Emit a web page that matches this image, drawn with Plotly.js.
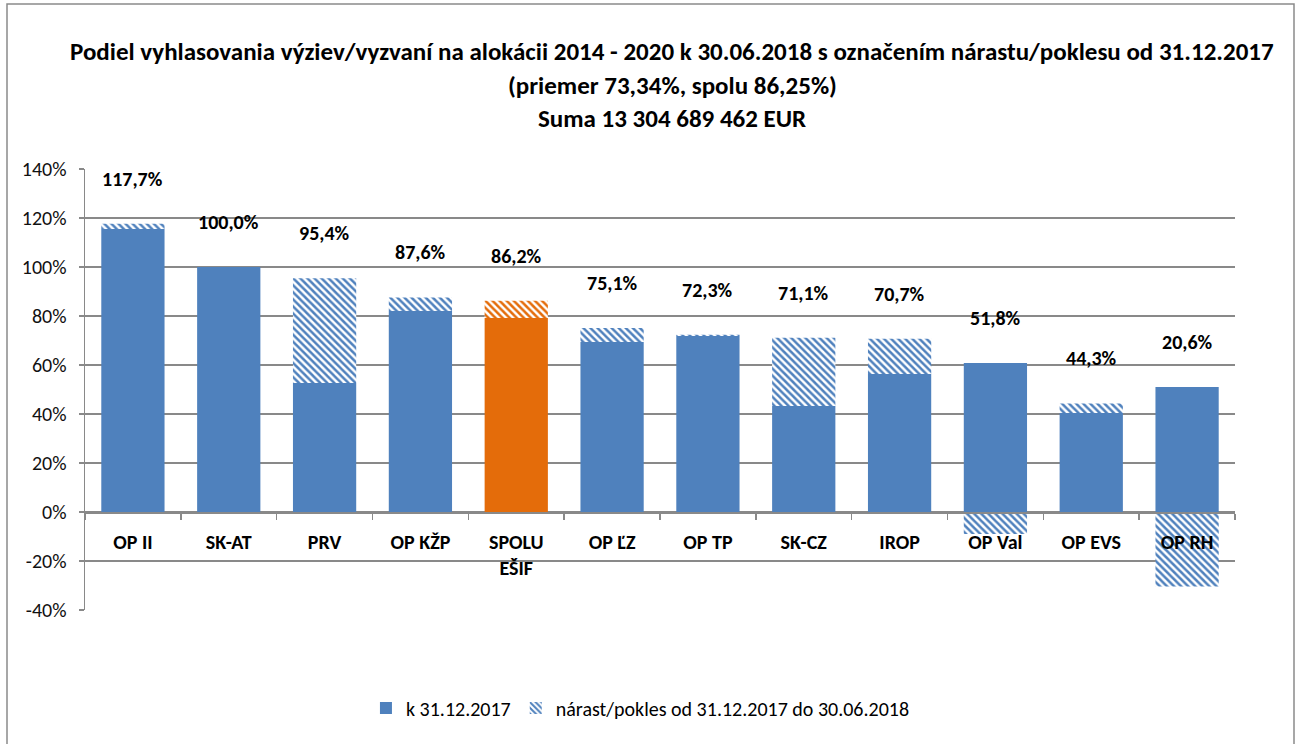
<!DOCTYPE html>
<html>
<head>
<meta charset="utf-8">
<script src="https://cdn.plot.ly/plotly-3.0.1.min.js"></script>
<style>html,body{margin:0;padding:0;background:#fff;}#chart{width:1297px;height:744px;}</style>
</head>
<body>
<div id="chart"></div>
<script>
// ---- data ----
const categories = ['OP II','SK-AT','PRV','OP KŽP','SPOLU<br>EŠIF','OP ĽZ','OP TP','SK-CZ','IROP','OP Val','OP EVS','OP RH'];
const base2017 = [115.5,100.0,52.7,82.0,79.2,69.4,71.8,43.3,56.3,60.8,40.4,51.0];
const change = [2.2,0.0,42.7,5.6,7.0,5.7,0.5,27.8,14.4,-9.0,3.9,-30.4];
const totalLabels = ['117,7%','100,0%','95,4%','87,6%','86,2%','75,1%','72,3%','71,1%','70,7%','51,8%','44,3%','20,6%'];
const yTickVals = [-40,-20,0,20,40,60,80,100,120,140];
const yTickText = ['-40%','-20%','0%','20%','40%','60%','80%','100%','120%','140%'];
const seriesNames = ['k 31.12.2017','nárast/pokles od 31.12.2017 do 30.06.2018'];
const titleLines = [
  'Podiel vyhlasovania výziev/vyzvaní na alokácii 2014 - 2020 k 30.06.2018 s označením nárastu/poklesu od 31.12.2017',
  '(priemer 73,34%, spolu 86,25%)',
  'Suma 13 304 689 462 EUR'
];

// ---- style ----
const BLUE = '#4F81BD', ORANGE = '#E46C0A', GRID = '#898989';
const FONT = "Carlito, 'Open Sans', sans-serif";
const highlight = 'SPOLU<br>EŠIF';
const W = 1297, H = 744, M = {l:85, r:62, t:169, b:134};
const pw = W - M.l - M.r, ph = H - M.t - M.b;
const px2x = p => (p - M.l) / pw;
const px2y = p => (H - M.b - p) / ph;

const fill = categories.map(c => c === highlight ? ORANGE : BLUE);

const traces = [
  {
    type:'bar', name:seriesNames[0], x:categories, y:base2017,
    marker:{color:fill, line:{width:0}},
    hoverinfo:'skip'
  },
  {
    type:'bar', name:seriesNames[1], x:categories, y:change,
    marker:{color:'#ffffff', line:{width:0},
      pattern:{shape:'\\', fgcolor:fill, bgcolor:'#ffffff', size:5, solidity:0.5, fillmode:'replace'}},
    hoverinfo:'skip'
  }
];

const annotations = [];
categories.forEach((c,i) => {
  const top = Math.max(base2017[i], base2017[i] + change[i]);
  annotations.push({
    x:c, y:top, xref:'x', yref:'y', text:'<b>'+totalLabels[i]+'</b>',
    showarrow:false, yanchor:'middle', yshift:45,
    font:{family:FONT, size:20, color:'#000'}
  });
});
const titleY = [52, 85, 118];
titleLines.forEach((t,i) => {
  annotations.push({
    x:px2x(672), y:px2y(titleY[i]), xref:'paper', yref:'paper',
    text:'<b>'+t+'</b>', showarrow:false, xanchor:'center', yanchor:'middle',
    font:{family:FONT, size:25, color:'#000'}
  });
});

const layout = {
  width:W, height:H, margin:M,
  paper_bgcolor:'#fff', plot_bgcolor:'#fff',
  barmode:'relative', bargap:0.34,
  showlegend:true,
  legend:{orientation:'h', x:0.483, xanchor:'center', y:px2y(708), yanchor:'middle',
    font:{family:FONT, size:20, color:'#000'}, itemwidth:30, traceorder:'normal'},
  xaxis:{
    type:'category', anchor:'free', position:px2y(512),
    showline:true, linecolor:GRID, linewidth:1.5,
    ticks:'outside', ticklen:6, tickcolor:GRID, tickwidth:1.5, tickson:'boundaries',
    showgrid:false, zeroline:false,
    tickfont:{family:FONT, size:20, color:'#000', weight:'bold'},
    ticklabelstandoff:11
  },
  yaxis:{
    range:[-40,140], domain:[0,1],
    tickvals:yTickVals, ticktext:yTickText,
    showgrid:true, gridcolor:GRID, gridwidth:1.5,
    showline:true, linecolor:GRID, linewidth:1.5,
    ticks:'outside', ticklen:5, tickcolor:GRID, tickwidth:1.5,
    zeroline:false,
    tickfont:{family:FONT, size:20, color:'#111'},
    ticklabelstandoff:8
  },
  annotations:annotations,
  shapes:[{
    type:'rect', xref:'paper', yref:'paper',
    x0:px2x(7), x1:px2x(1294), y0:px2y(760), y1:px2y(4),
    line:{color:'#8a8a8a', width:1.5}, fillcolor:'rgba(0,0,0,0)', layer:'below'
  }]
};

Plotly.newPlot('chart', traces, layout, {staticPlot:true, displayModeBar:false});
</script>
</body>
</html>
